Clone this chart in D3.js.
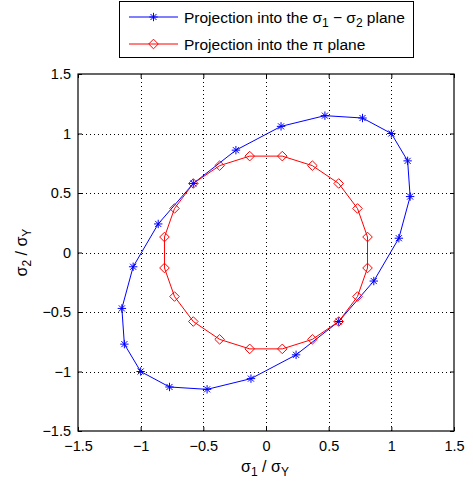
<!DOCTYPE html>
<html>
<head>
<meta charset="utf-8">
<script src="https://cdn.jsdelivr.net/npm/d3@7"></script>
<style>
  html, body { margin: 0; padding: 0; background: #fff; }
  svg { display: block; }
  text { font-family: "Liberation Sans", Arial, Helvetica, sans-serif; fill: #000; }
</style>
</head>
<body>
<svg id="chart" width="473" height="487"></svg>
<script>
// Yield surface projection in the σ1–σ2 plane (von Mises ellipse), closed loop
const sigmaPlaneX = [0.12, 0.47, 0.77, 1.00, 1.13, 1.15, 1.06, 0.86, 0.58, 0.24,
                     -0.12, -0.47, -0.77, -1.00, -1.13, -1.15, -1.06, -0.86, -0.58, -0.24];
const sigmaPlaneY = [1.06, 1.15, 1.13, 1.00, 0.77, 0.47, 0.12, -0.24, -0.58, -0.86,
                     -1.06, -1.15, -1.13, -1.00, -0.77, -0.47, -0.12, 0.24, 0.58, 0.86];

// Projection into the deviatoric (π) plane, closed loop
const piPlaneX = [0.13, 0.37, 0.58, 0.73, 0.81, 0.81, 0.73, 0.58, 0.37, 0.13,
                  -0.13, -0.37, -0.58, -0.73, -0.81, -0.81, -0.73, -0.58, -0.37, -0.13];
const piPlaneY = [0.81, 0.73, 0.58, 0.37, 0.13, -0.13, -0.37, -0.58, -0.73, -0.81,
                  -0.81, -0.73, -0.58, -0.37, -0.13, 0.13, 0.37, 0.58, 0.73, 0.81];

const xTicks = [-1.5, -1, -0.5, 0, 0.5, 1, 1.5];
const yTicks = [-1.5, -1, -0.5, 0, 0.5, 1, 1.5];

const svg = d3.select("#chart");
const plotLeft = 78, plotRight = 454, plotTop = 74, plotBottom = 431;

const x = d3.scaleLinear().domain([-1.5, 1.5]).range([plotLeft, plotRight]);
const y = d3.scaleLinear().domain([-1.5, 1.5]).range([plotBottom, plotTop]);

const fmt = v => (v < 0 ? "\u2212" : "") + String(Math.abs(v));

// white axes background
svg.append("rect").attr("x", plotLeft).attr("y", plotTop)
  .attr("width", plotRight - plotLeft).attr("height", plotBottom - plotTop).attr("fill", "#fff");

// dotted grid
const grid = svg.append("g").attr("stroke", "#000").attr("stroke-width", 1)
  .attr("stroke-dasharray", "1,3").attr("fill", "none");
xTicks.slice(1, -1).forEach(t => {
  grid.append("line").attr("x1", Math.round(x(t)) + 0.5).attr("x2", Math.round(x(t)) + 0.5)
    .attr("y1", plotBottom).attr("y2", plotTop);
});
yTicks.slice(1, -1).forEach(t => {
  grid.append("line").attr("y1", Math.round(y(t)) + 0.5).attr("y2", Math.round(y(t)) + 0.5)
    .attr("x1", plotLeft).attr("x2", plotRight);
});

// axes with inward ticks on all four sides
const tickLen = 4;
const axB = svg.append("g").attr("transform", `translate(0,${plotBottom})`)
  .call(d3.axisBottom(x).tickValues(xTicks).tickSizeInner(-tickLen).tickSizeOuter(0).tickPadding(10).tickFormat(fmt));
const axT = svg.append("g").attr("transform", `translate(0,${plotTop})`)
  .call(d3.axisTop(x).tickValues(xTicks).tickSizeInner(-tickLen).tickSizeOuter(0).tickFormat(""));
const axL = svg.append("g").attr("transform", `translate(${plotLeft},0)`)
  .call(d3.axisLeft(y).tickValues(yTicks).tickSizeInner(-tickLen).tickSizeOuter(0).tickPadding(7).tickFormat(fmt));
const axR = svg.append("g").attr("transform", `translate(${plotRight},0)`)
  .call(d3.axisRight(y).tickValues(yTicks).tickSizeInner(-tickLen).tickSizeOuter(0).tickFormat(""));
[axB, axT, axL, axR].forEach(a => {
  a.select(".domain").remove();
  a.selectAll("line").attr("stroke", "#000");
  a.selectAll("text").style("font-size", "14.5px").style("font-family", "Liberation Sans, Arial, sans-serif").attr("fill", "#000");
});

// axes box
svg.append("rect").attr("x", plotLeft).attr("y", plotTop)
  .attr("width", plotRight - plotLeft).attr("height", plotBottom - plotTop)
  .attr("fill", "none").attr("stroke", "#000").attr("stroke-width", 1.2);

// data
const blueColor = "#0000ff", redColor = "#ff0000";
const blueData = sigmaPlaneX.map((v, i) => [v, sigmaPlaneY[i]]);
const redData = piPlaneX.map((v, i) => [v, piPlaneY[i]]);

const line = d3.line().x(d => x(d[0])).y(d => y(d[1])).curve(d3.curveLinearClosed);

svg.append("path").datum(blueData).attr("d", line)
  .attr("fill", "none").attr("stroke", blueColor).attr("stroke-width", 1);
svg.append("path").datum(redData).attr("d", line)
  .attr("fill", "none").attr("stroke", redColor).attr("stroke-width", 1);

// marker shapes
const starR = 4.2, diaR = 4.8;
function star(g, cx, cy, color) {
  const d = `M${cx - starR},${cy}L${cx + starR},${cy}M${cx},${cy - starR}L${cx},${cy + starR}` +
    `M${cx - starR * 0.72},${cy - starR * 0.72}L${cx + starR * 0.72},${cy + starR * 0.72}` +
    `M${cx - starR * 0.72},${cy + starR * 0.72}L${cx + starR * 0.72},${cy - starR * 0.72}`;
  g.append("path").attr("d", d).attr("stroke", color).attr("stroke-width", 1).attr("fill", "none");
}
function diamond(g, cx, cy, color) {
  const d = `M${cx},${cy - diaR}L${cx + diaR},${cy}L${cx},${cy + diaR}L${cx - diaR},${cy}Z`;
  g.append("path").attr("d", d).attr("stroke", color).attr("stroke-width", 1).attr("fill", "none");
}

const blueMarks = svg.append("g");
blueData.forEach(d => star(blueMarks, x(d[0]), y(d[1]), blueColor));
const redMarks = svg.append("g");
redData.forEach(d => diamond(redMarks, x(d[0]), y(d[1]), redColor));

// axis labels
svg.append("text").attr("x", 265).attr("y", 472).attr("text-anchor", "middle")
  .style("font-size", "16px")
  .call(t => {
    t.append("tspan").text("σ");
    t.append("tspan").attr("dy", 4).style("font-size", "12px").text("1");
    t.append("tspan").attr("dy", -4).text(" / σ");
    t.append("tspan").attr("dy", 4).style("font-size", "12px").text("Y");
  });

svg.append("text").attr("transform", `translate(27,${(plotTop + plotBottom) / 2}) rotate(-90)`)
  .attr("text-anchor", "middle").style("font-size", "16px")
  .call(t => {
    t.append("tspan").text("σ");
    t.append("tspan").attr("dy", 4).style("font-size", "12px").text("2");
    t.append("tspan").attr("dy", -4).text(" / σ");
    t.append("tspan").attr("dy", 4).style("font-size", "12px").text("Y");
  });

// legend
const legend = svg.append("g");
legend.append("rect").attr("x", 119.5).attr("y", 1.5).attr("width", 294).attr("height", 56)
  .attr("fill", "#fff").attr("stroke", "#000").attr("stroke-width", 1);

const rows = [
  { color: blueColor, mark: star, y: 17, parts: [["Projection into the σ", 0], ["1", 1], [" \u2212 σ", 0], ["2", 1], [" plane", 0]] },
  { color: redColor, mark: diamond, y: 44, parts: [["Projection into the π plane", 0]] }
];
rows.forEach(r => {
  legend.append("line").attr("x1", 129).attr("x2", 178).attr("y1", r.y).attr("y2", r.y)
    .attr("stroke", r.color).attr("stroke-width", 1);
  r.mark(legend, 153.5, r.y, r.color);
  const t = legend.append("text").attr("x", 184).attr("y", r.y + 5.5).style("font-size", "15.5px");
  let sub = 0;
  r.parts.forEach(([s, isSub]) => {
    const ts = t.append("tspan").text(s);
    if (isSub && !sub) { ts.attr("dy", 4).style("font-size", "12px"); sub = 1; }
    else if (!isSub && sub) { ts.attr("dy", -4); sub = 0; }
  });
});
</script>
</body>
</html>
